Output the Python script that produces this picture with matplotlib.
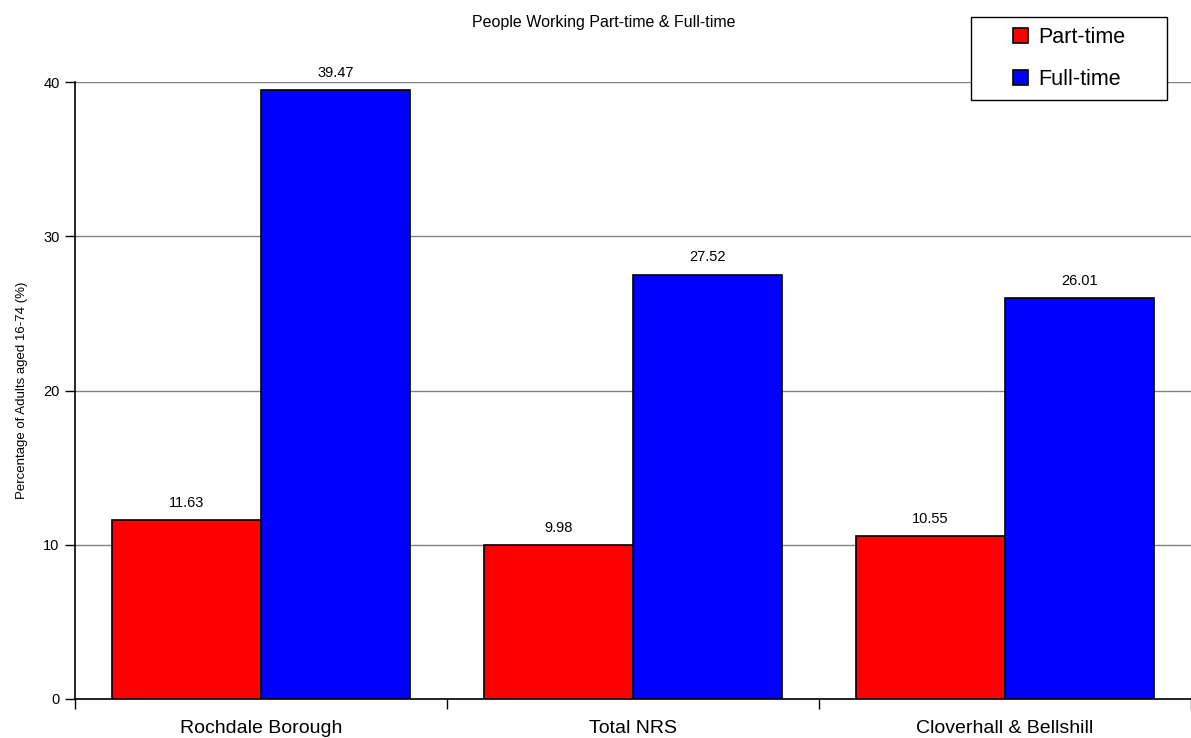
import matplotlib
matplotlib.use("Agg")
from matplotlib import pyplot as plt
from matplotlib.patches import Rectangle
import numpy as np

# data
categories = ["Rochdale Borough", "Total NRS", "Cloverhall & Bellshill"]
part_time = [11.63, 9.98, 10.55]
full_time = [39.47, 27.52, 26.01]
y_ticks = [0, 10, 20, 30, 40]

plt.rcParams['font.family'] = ['Liberation Sans', 'DejaVu Sans']

W, H = 1191, 738
fig = plt.figure(figsize=(W / 100, H / 100), dpi=100)
ax = fig.add_axes([75 / W, 1 - 699 / H, 1 - 75 / W, (699 - 82) / H])

x = np.arange(len(categories))
w = 0.4
b1 = ax.bar(x - w / 2, part_time, w, color="#ff0000", edgecolor="black", linewidth=1.2, label="Part-time", zorder=3)
b2 = ax.bar(x + w / 2, full_time, w, color="#0000ff", edgecolor="black", linewidth=1.2, label="Full-time", zorder=3)

# value labels above bars
for bars, vals in ((b1, part_time), (b2, full_time)):
    for r, v in zip(bars, vals):
        ax.text(r.get_x() + r.get_width() / 2, v + 0.65, "{:.2f}".format(v),
                ha="center", va="bottom", fontsize=10.5)

ax.set_xlim(-0.5, len(categories) - 0.5)
ax.set_ylim(0, 40)
ax.set_yticks(y_ticks)
ax.tick_params(axis="y", labelsize=10.5, direction="out", length=7, width=1, pad=4)

# category labels centred, ticks at the boundaries
ax.set_xticks(x)
ax.set_xticklabels(categories, fontsize=14)
ax.tick_params(axis="x", length=0, pad=15)
ax.set_xticks(np.arange(len(categories) + 1) - 0.5, minor=True)
ax.tick_params(axis="x", which="minor", direction="out", length=7, width=1)

ax.yaxis.grid(True, color="#808080", linewidth=1, zorder=0)
ax.set_axisbelow(True)
for s in ("top", "right"):
    ax.spines[s].set_visible(False)
ax.spines["left"].set_linewidth(1.2)
ax.spines["bottom"].set_linewidth(1.2)

ax.set_ylabel("Percentage of Adults aged 16-74 (%)", fontsize=9.5, labelpad=14)
ax.yaxis.set_label_coords(-47 / (W - 75), 0.5)
fig.text(604 / W, 1 - 23 / H, "People Working Part-time & Full-time",
         ha="center", va="center", fontsize=11.5)

# legend box drawn by hand, entries centred in it
lx0, ly0, lx1, ly1 = 971, 17, 1167, 100
fig.patches.append(Rectangle((lx0 / W, 1 - ly1 / H), (lx1 - lx0) / W, (ly1 - ly0) / H,
                             transform=fig.transFigure, facecolor="white",
                             edgecolor="black", linewidth=1, zorder=5))
leg = fig.legend(loc="center", bbox_to_anchor=((lx0 + lx1) / 2 / W, 1 - (ly0 + ly1) / 2 / H),
                 fontsize=15.5, frameon=False,
                 handlelength=0.7, handleheight=0.7, handletextpad=0.5,
                 borderpad=0, labelspacing=0.95, borderaxespad=0)
leg.set_zorder(6)

fig.savefig("out.png", dpi=100)
